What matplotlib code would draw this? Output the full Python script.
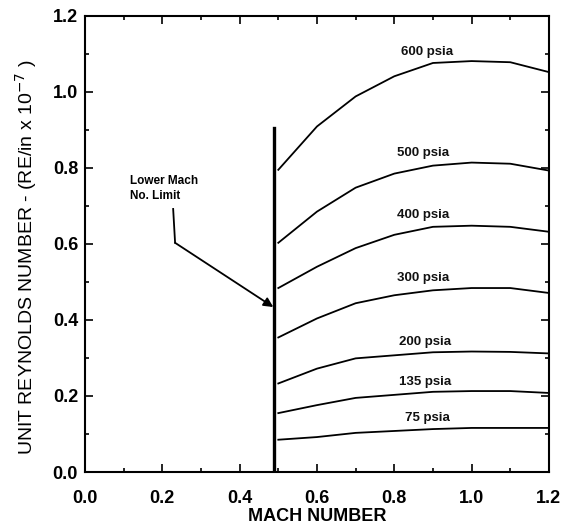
import matplotlib.pyplot as plt
from matplotlib.ticker import MultipleLocator

plt.rcParams['font.family'] = ['Liberation Sans', 'DejaVu Sans']

mach = [0.5, 0.6, 0.7, 0.8, 0.9, 1.0, 1.1, 1.2]

# unit Reynolds number (RE/in x 10^-7) for each stagnation pressure
re_600 = [0.795, 0.909, 0.988, 1.041, 1.076, 1.081, 1.078, 1.052]
re_500 = [0.603, 0.685, 0.748, 0.785, 0.806, 0.814, 0.811, 0.793]
re_400 = [0.484, 0.540, 0.589, 0.624, 0.645, 0.648, 0.645, 0.632]
re_300 = [0.354, 0.404, 0.444, 0.465, 0.478, 0.484, 0.484, 0.471]
re_200 = [0.233, 0.272, 0.299, 0.307, 0.315, 0.317, 0.316, 0.312]
re_135 = [0.155, 0.176, 0.195, 0.203, 0.211, 0.213, 0.213, 0.208]
re_75 = [0.085, 0.092, 0.103, 0.108, 0.113, 0.116, 0.116, 0.116]

curves = [re_600, re_500, re_400, re_300, re_200, re_135, re_75]
labels = ['600 psia', '500 psia', '400 psia', '300 psia', '200 psia', '135 psia', '75 psia']
label_pos = [(0.885, 1.105), (0.875, 0.84), (0.875, 0.676), (0.875, 0.51),
             (0.88, 0.342), (0.88, 0.237), (0.885, 0.142)]

mach_limit = 0.49
limit_top = 0.905

fig = plt.figure(figsize=(5.63, 5.28), dpi=100)
ax = fig.add_axes([0.151, 0.106, 0.824, 0.864])

for vals, lab, (lx, ly) in zip(curves, labels, label_pos):
    ax.plot(mach, vals, color='black', lw=1.3)
    ax.text(lx, ly, lab, ha='center', va='center', fontsize=9.5,
            fontweight='bold', color='#111111')

ax.plot([mach_limit, mach_limit], [0.0, limit_top], color='black', lw=2.4)

# annotation with bent leader
ax.text(0.116, 0.745, 'Lower Mach\nNo. Limit', ha='left', va='center',
        fontsize=8.5, fontweight='bold', linespacing=1.3)
ax.plot([0.228, 0.233], [0.692, 0.603], color='black', lw=1.3)
ax.annotate('', xy=(0.487, 0.434), xytext=(0.233, 0.603),
            arrowprops=dict(arrowstyle='-|>', color='black', lw=1.3,
                            mutation_scale=14, shrinkA=0, shrinkB=0))

ax.set_xlim(0.0, 1.2)
ax.set_ylim(0.0, 1.2)
ax.xaxis.set_major_locator(MultipleLocator(0.2))
ax.xaxis.set_minor_locator(MultipleLocator(0.1))
ax.yaxis.set_major_locator(MultipleLocator(0.2))
ax.yaxis.set_minor_locator(MultipleLocator(0.1))
ax.tick_params(which='both', direction='in', top=True, right=True, width=1.2)
ax.tick_params(which='major', length=6, labelsize=13)
ax.tick_params(axis='x', which='major', pad=13)
ax.tick_params(axis='y', which='major', pad=5)
ax.tick_params(which='minor', length=3)
ax.set_xticklabels(['%.1f' % v for v in ax.get_xticks()], fontweight='bold')
ax.set_yticklabels(['%.1f' % v for v in ax.get_yticks()], fontweight='bold')
for s in ax.spines.values():
    s.set_linewidth(1.5)

ax.set_xlabel('MACH NUMBER', fontsize=13, fontweight='bold', labelpad=1)
ax.set_ylabel('UNIT REYNOLDS NUMBER - (RE/in x 10$^{-7}$ )', fontsize=14)
ax.yaxis.set_label_coords(-0.10, 0.47)

fig.savefig('out.png', dpi=100)
